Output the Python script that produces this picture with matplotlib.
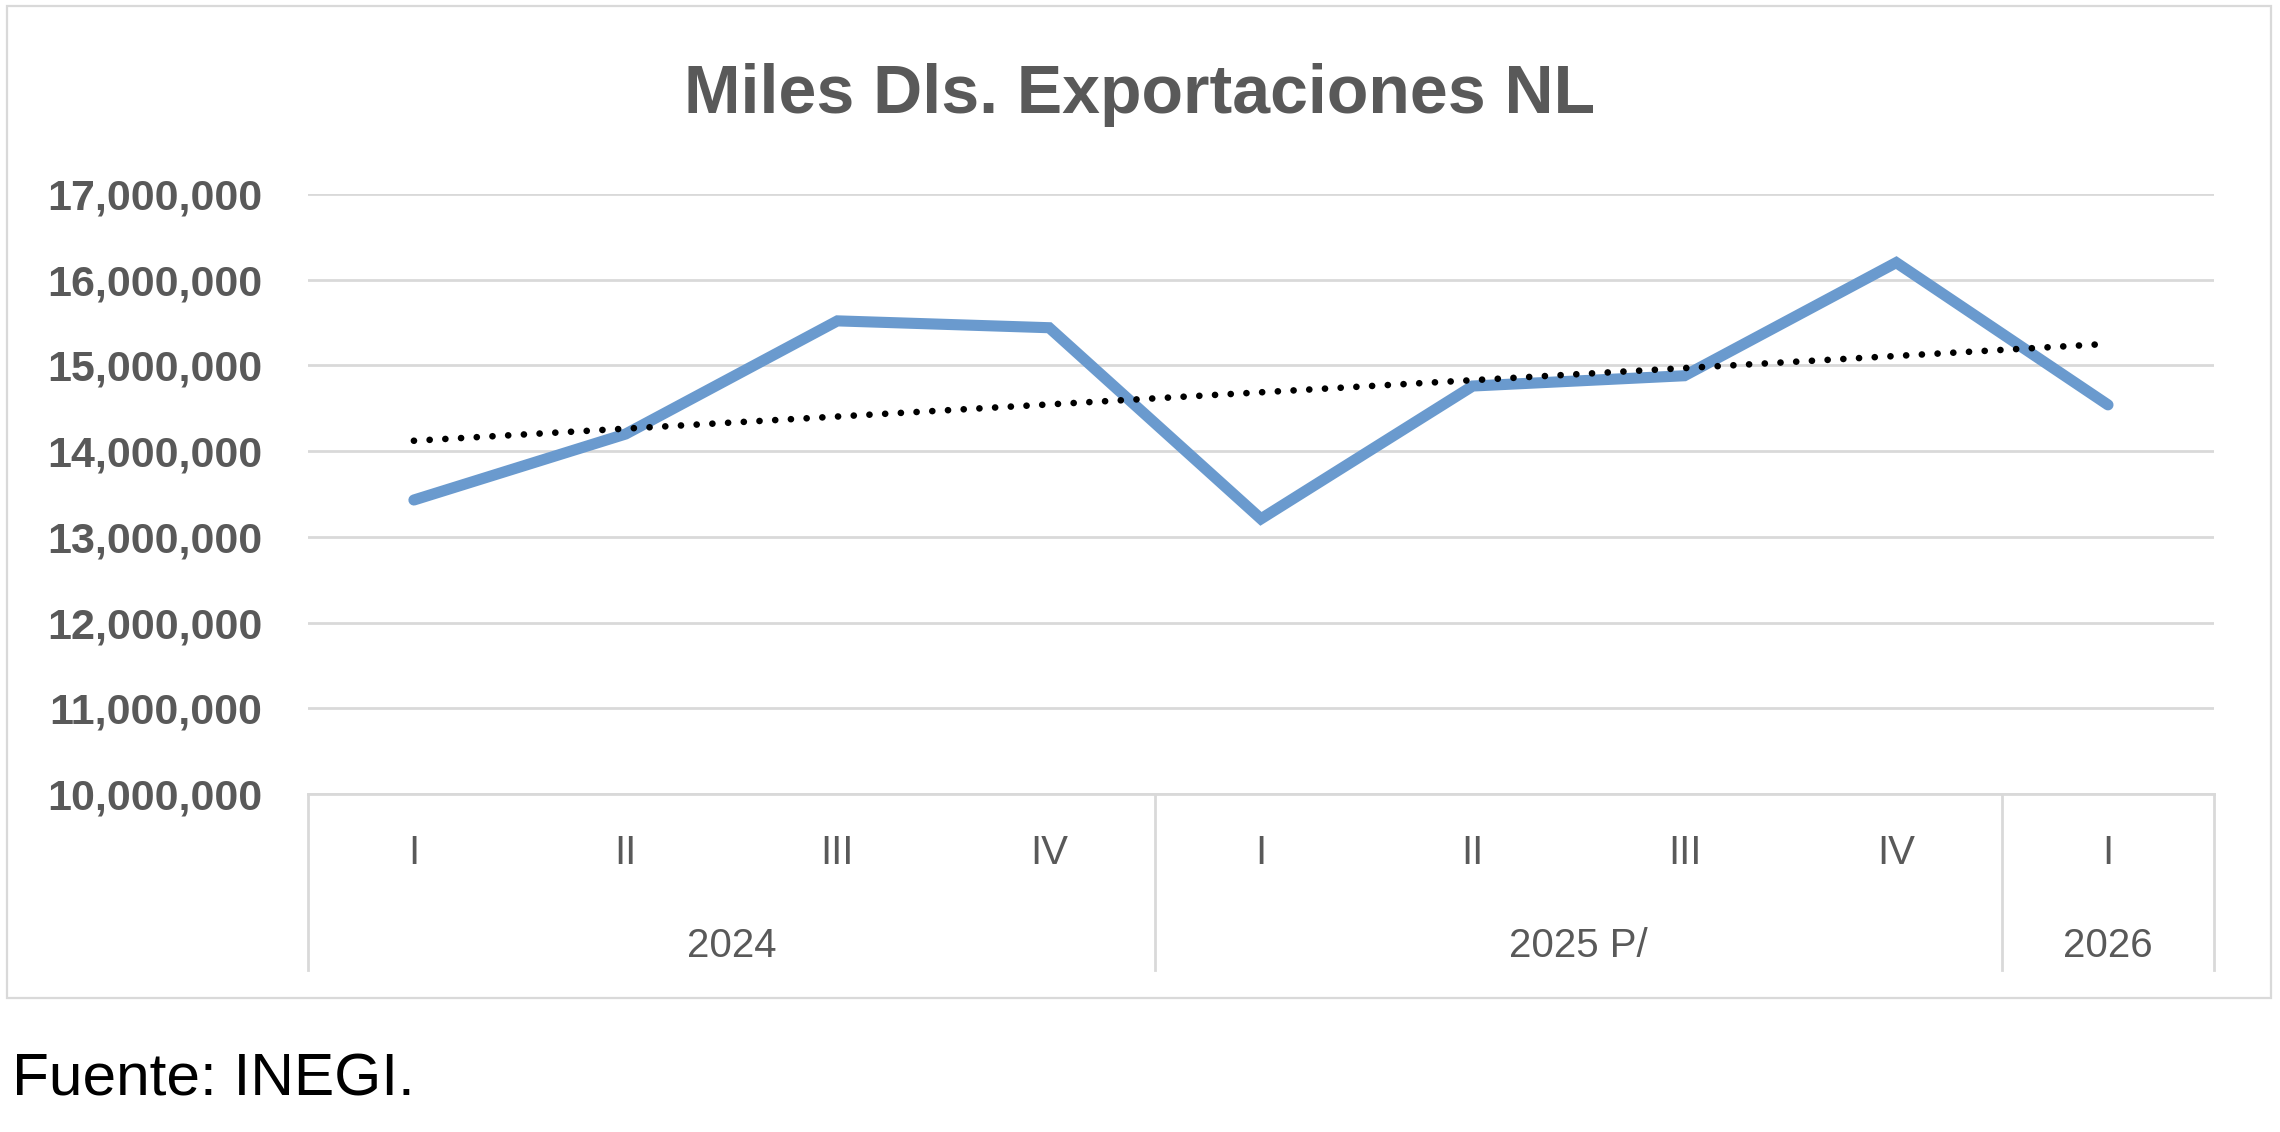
import matplotlib
matplotlib.use("Agg")
import matplotlib.pyplot as plt
import matplotlib.transforms as mtransforms
from matplotlib.patches import Rectangle
from matplotlib.ticker import FuncFormatter
import numpy as np

# quarterly exports, thousands of USD
quarters = ['I', 'II', 'III', 'IV', 'I', 'II', 'III', 'IV', 'I']
years = ['2024', '2025 P/', '2026']
year_spans = [4, 4, 1]
exports = [13430000, 14200000, 15520000, 15440000, 13210000,
           14760000, 14880000, 16200000, 14540000]

y_ticks = list(range(10000000, 17000001, 1000000))

plt.rcParams['font.family'] = ['Liberation Sans', 'DejaVu Sans']
gray_txt = '#595959'
grid_c = '#D9D9D9'
blue = '#6A9ACE'

fig = plt.figure(figsize=(22.8, 11.32), dpi=100)
ax = fig.add_axes([0.1351, 0.2986, 0.8359, 0.5300])

x = np.arange(1, len(exports) + 1)
ax.plot(x, exports, color=blue, lw=8, solid_capstyle='round',
        solid_joinstyle='miter', zorder=3)

# linear trendline
coef = np.polyfit(x, exports, 1)
ax.plot(x[[0, -1]], np.polyval(coef, x[[0, -1]]), color='black', lw=4.8,
        linestyle=(0, (0.01, 2.35)), dash_capstyle='round', zorder=4)

ax.set_xlim(0.5, len(exports) + 0.5)
ax.set_ylim(y_ticks[0], y_ticks[-1])
ax.set_yticks(y_ticks)
ax.yaxis.set_major_formatter(FuncFormatter(lambda v, p: f'{int(v):,}'))
ax.yaxis.grid(True, color=grid_c, lw=2)
ax.set_axisbelow(True)
for s in ['top', 'right', 'left']:
    ax.spines[s].set_visible(False)
ax.spines['bottom'].set_color(grid_c)
ax.spines['bottom'].set_linewidth(2)

ax.tick_params(axis='y', length=0, pad=33, labelsize=31, labelcolor=gray_txt)
for lbl in ax.get_yticklabels():
    lbl.set_fontweight('bold')

ax.set_xticks(x)
ax.set_xticklabels(quarters)
ax.tick_params(axis='x', length=0, pad=29, labelsize=29, labelcolor=gray_txt)

# year groups and separators
trans = mtransforms.blended_transform_factory(ax.transData, ax.transAxes)
bounds = np.concatenate([[0.5], 0.5 + np.cumsum(year_spans)])
for b in bounds:
    ax.plot([b, b], [0, -0.293], transform=trans, color=grid_c, lw=2,
            clip_on=False)
for yr, lo, hi in zip(years, bounds[:-1], bounds[1:]):
    ax.text((lo + hi) / 2, -0.254, yr, transform=trans, ha='center',
            va='center', fontsize=29, color=gray_txt)

fig.text(0.5, 0.9165, 'Miles Dls. Exportaciones NL', ha='center', va='center',
         fontsize=49, fontweight='bold', color=gray_txt)

# chart border
fig.patches.append(Rectangle((7 / 2280, 1 - 998 / 1132), 2264 / 2280, 992 / 1132,
                             transform=fig.transFigure, fill=False,
                             edgecolor=grid_c, lw=1.6))

fig.text(0.0053, 0.0455, 'Fuente: INEGI.', ha='left', va='center',
         fontsize=43.5, color='black')

fig.savefig('out.png', dpi=100, facecolor='white')
